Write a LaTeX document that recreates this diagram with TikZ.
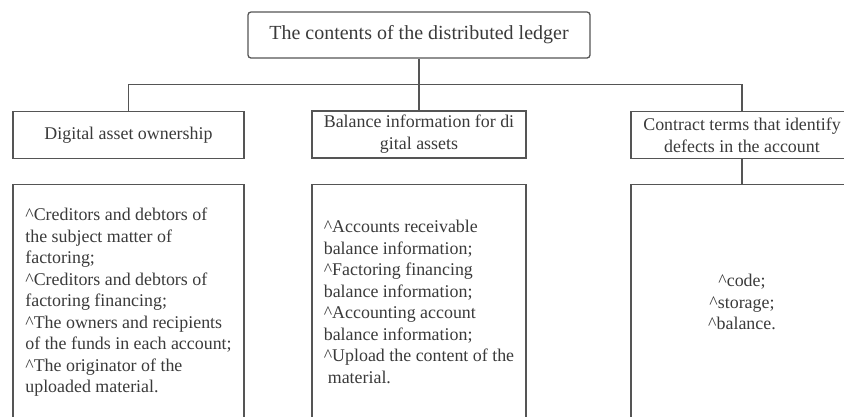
\documentclass[tikz,border=0pt]{standalone}
\usepackage{fontspec}
\setmainfont{Liberation Serif}
\usepackage{xcolor}
\usepackage{tikz}
\usetikzlibrary{positioning,calc}

\definecolor{linegray}{HTML}{555555}
\definecolor{textgray}{HTML}{3A3A3A}

\begin{document}
\begin{tikzpicture}[
  x=1pt, y=-1pt,
  node distance=25pt,
  every node/.style={text=textgray},
  head/.style={rectangle, draw=linegray, line width=1.3pt, rounded corners=3pt, minimum width=342pt, minimum height=46pt, font=\fontsize{20}{24}\selectfont},
  cat/.style={rectangle, draw=linegray, line width=1.3pt, minimum height=47pt, inner sep=0pt, align=center, font=\fontsize{17.9}{21.8}\selectfont},
  list/.style={rectangle, draw=linegray, line width=1.3pt, minimum height=235pt, inner sep=0pt, font=\fontsize{17.9}{21.5}\selectfont}
]
\clip (0,0) rectangle (844,416);

\node[head] (top) at (419,35) {The contents of the distributed ledger};

\node[cat, minimum width=231pt] (own) at (128.5,135) {Digital asset ownership};
\node[cat, minimum width=214pt] (bal) at (419,134.5) {Balance information for di\\gital assets};
\node[cat, minimum width=222pt] (terms) at (742,135) {Contract terms that identify\\defects in the account};

\coordinate (bus) at (419,84.5);
\draw[linegray, line width=1.3pt] (top.south) -- (bal.north);
\draw[linegray, line width=1.3pt] (own.north) |- (bus) -| (terms.north);

\node[list, minimum width=231pt, align=left, below=of own] (ownlist) {\textasciicircum Creditors and debtors of\\the subject matter of\\factoring;\\\textasciicircum Creditors and debtors of\\factoring financing;\\\textasciicircum The owners and recipients\\of the funds in each account;\\\textasciicircum The originator of the\\uploaded material.};

\node[list, minimum width=214pt, align=left, below=of bal] (ballist) {\textasciicircum Accounts receivable\\balance information;\\\textasciicircum Factoring financing\\balance information;\\\textasciicircum Accounting account\\balance information;\\\textasciicircum Upload the content of the\\\hspace*{4pt}material.};

\node[list, minimum width=222pt, align=center, below=of terms] (termlist) {\textasciicircum code;\\\textasciicircum storage;\\\textasciicircum balance.};
\draw[linegray, line width=1.3pt] (terms.south) -- (termlist.north);

\end{tikzpicture}
\end{document}
